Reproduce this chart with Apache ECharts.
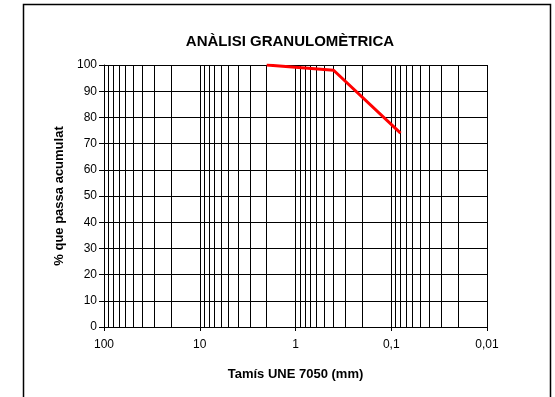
<!DOCTYPE html>
<html>
<head>
<meta charset="utf-8">
<script src="https://cdn.jsdelivr.net/npm/echarts@6/dist/echarts.min.js"></script>
<style>
  html, body { margin: 0; padding: 0; background: #fff; }
  #chart { width: 555px; height: 397px; }
</style>
</head>
<body>
<div id="chart"></div>
<script>
// Sieve openings (mm) and cumulative percentage passing
const sieveSizes = [2, 0.4, 0.08];
const percentPassing = [100, 98, 74];

// Minor log-grid positions (2..9 within each decade)
const minorGrid = [
  90, 80, 70, 60, 50, 40, 30, 20,
  9, 8, 7, 6, 5, 4, 3, 2,
  0.9, 0.8, 0.7, 0.6, 0.5, 0.4, 0.3, 0.2,
  0.09, 0.08, 0.07, 0.06, 0.05, 0.04, 0.03, 0.02
];

const chart = echarts.init(document.getElementById('chart'));
const font = '"Liberation Sans", Arial, sans-serif';

function fmtNum(v) {
  return String(Number(Number(v).toPrecision(6))).replace('.', ',');
}

chart.setOption({
  animation: false,
  backgroundColor: '#fff',
  title: {
    text: 'ANÀLISI GRANULOMÈTRICA',
    left: 285,
    textAlign: 'center',
    top: 29,
    textStyle: { fontFamily: font, fontSize: 15, fontWeight: 'bold', color: '#000' }
  },
  graphic: [{
    type: 'rect',
    shape: { x: 23.5, y: 4.5, width: 527, height: 400 },
    style: { fill: 'none', stroke: '#000', lineWidth: 1.5 },
    silent: true
  }],
  grid: { left: 104, right: 68, top: 65, bottom: 70 },
  xAxis: {
    type: 'log',
    logBase: 10,
    min: 0.01,
    max: 100,
    inverse: true,
    name: 'Tamís UNE 7050 (mm)',
    nameLocation: 'middle',
    nameGap: 41,
    nameTextStyle: { fontFamily: font, fontSize: 13, fontWeight: 'bold', color: '#000' },
    axisLine: { lineStyle: { color: '#000', width: 1 } },
    axisTick: { show: true, length: 4, lineStyle: { color: '#000' } },
    axisLabel: {
      fontFamily: font, fontSize: 12, color: '#000', margin: 12,
      formatter: fmtNum
    },
    splitLine: { show: true, lineStyle: { color: '#000', width: 1 } },
    minorTick: { show: false },
    minorSplitLine: { show: false }
  },
  yAxis: {
    type: 'value',
    min: 0,
    max: 100,
    interval: 10,
    name: '% que passa acumulat',
    nameLocation: 'middle',
    nameGap: 37,
    nameRotate: 90,
    nameTextStyle: { fontFamily: font, fontSize: 13, fontWeight: 'bold', color: '#000' },
    axisLine: { show: true, lineStyle: { color: '#000', width: 1 } },
    axisTick: { show: true, length: 5, lineStyle: { color: '#000' } },
    axisLabel: { fontFamily: font, fontSize: 12, color: '#000', margin: 7 },
    splitLine: { show: true, lineStyle: { color: '#000', width: 1 } }
  },
  series: [{
    type: 'line',
    data: sieveSizes.map((s, i) => [s, percentPassing[i]]),
    showSymbol: false,
    symbol: 'none',
    lineStyle: { color: '#ff0000', width: 3 },
    z: 5,
    markLine: {
      silent: true,
      symbol: 'none',
      label: { show: false },
      lineStyle: { color: '#000', width: 1, type: 'solid' },
      data: minorGrid.map(v => ({ xAxis: v })),
      z: 1
    }
  }]
});
</script>
</body>
</html>
